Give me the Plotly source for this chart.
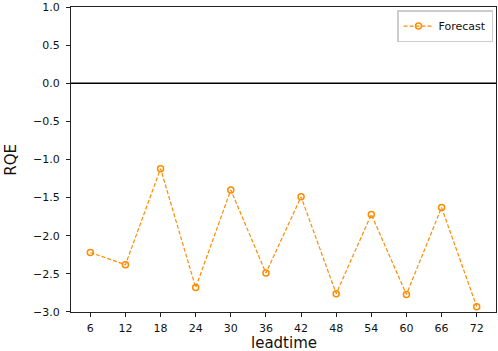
import plotly.graph_objects as go

leadtime = [6, 12, 18, 24, 30, 36, 42, 48, 54, 60, 66, 72]
rqe = [-2.22, -2.38, -1.12, -2.68, -1.40, -2.49, -1.49, -2.76, -1.72, -2.77, -1.63, -2.93]
y_ticks = [1.0, 0.5, 0.0, -0.5, -1.0, -1.5, -2.0, -2.5, -3.0]
y_ticktext = ["1.0", "0.5", "0.0", "\u22120.5", "\u22121.0", "\u22121.5", "\u22122.0", "\u22122.5", "\u22123.0"]
x_title = "leadtime"
y_title = "RQE"

fig = go.Figure()
fig.add_trace(go.Scatter(
    x=leadtime, y=rqe, mode="lines+markers", name="Forecast",
    line=dict(color="#FF8C00", width=1.2, dash="4px,2px"),
    marker=dict(symbol="circle-open", size=6, color="#FF8C00", line=dict(width=1.5, color="#FF8C00")),
))
fig.add_hline(y=0, line=dict(color="black", width=1.3))

axis_common = dict(showgrid=False, zeroline=False, showline=True, linecolor="#222", linewidth=1,
                   mirror=True, ticks="outside", ticklen=4, tickcolor="#222", automargin=False,
                   tickfont=dict(family="DejaVu Sans", size=11, color="#111"))
fig.update_xaxes(range=[2.7, 75.3], tickvals=leadtime, ticklabelstandoff=2, **axis_common)
fig.update_yaxes(range=[-3.0005, 1.0005], tickvals=y_ticks, ticktext=y_ticktext, ticklabelstandoff=4, **axis_common)

title_font = dict(family="DejaVu Sans", size=15, color="#111")
fig.add_annotation(text=x_title, xref="paper", yref="paper", x=0.5, y=-0.066,
                   xanchor="center", yanchor="top", showarrow=False, font=title_font)
fig.add_annotation(text=y_title, xref="paper", yref="paper", x=-0.143, y=0.5,
                   xanchor="center", yanchor="middle", textangle=-90, showarrow=False, font=title_font)

fig.update_layout(
    width=498, height=351,
    margin=dict(l=71, r=2, t=7, b=39),
    plot_bgcolor="white", paper_bgcolor="white",
    font=dict(family="DejaVu Sans"),
    showlegend=True,
    legend=dict(x=0.993, y=0.99, xanchor="right", yanchor="top",
                bgcolor="white", bordercolor="#ccc", borderwidth=1.5,
                font=dict(family="DejaVu Sans", size=11, color="#111"),
                itemwidth=30, tracegroupgap=0),
)
fig.write_html("out.html", config={"displayModeBar": False}, post_script="document.body.style.margin='0';")
